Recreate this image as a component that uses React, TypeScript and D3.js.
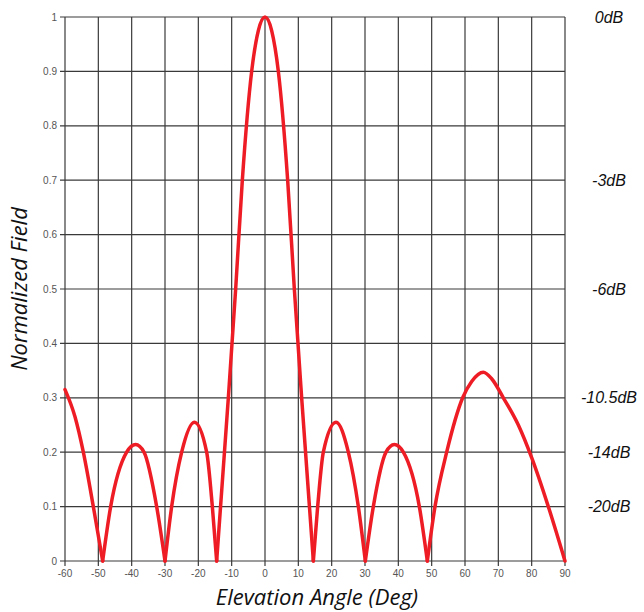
import { useEffect, useRef } from "react";
import * as d3 from "d3";

// elevation angle (deg) and normalized field
const angles = [
  -60, -57, -54.5, -51.5, -48.7,
  -46.3, -41.5, -38.8, -36.3, -32.5, -30,
  -28, -25, -21.2, -17.5, -15.8, -14.5,
  -11, -8.8, -6.8, -4, -2, 0, 2, 4, 6.8, 8.8, 11, 14.5,
  15.8, 17.5, 21.3, 25, 28, 30.1,
  32.5, 36.3, 38.8, 41.5, 46.3, 48.7,
  51, 54.5, 59.3, 62, 65.5, 68, 71.5, 76, 80, 85, 90,
];
const field = [
  0.315, 0.265, 0.2, 0.1, 0,
  0.1, 0.2, 0.214, 0.2, 0.1, 0,
  0.1, 0.2, 0.255, 0.2, 0.1, 0,
  0.3, 0.5, 0.7, 0.9, 0.975, 1, 0.975, 0.9, 0.7, 0.5, 0.3, 0,
  0.1, 0.2, 0.255, 0.2, 0.1, 0,
  0.1, 0.2, 0.214, 0.2, 0.1, 0,
  0.1, 0.2, 0.3, 0.33, 0.347, 0.335, 0.3, 0.25, 0.19, 0.1, 0,
];

const xTicks = [-60, -50, -40, -30, -20, -10, 0, 10, 20, 30, 40, 50, 60, 70, 80, 90];
const yTicks = [0, 0.1, 0.2, 0.3, 0.4, 0.5, 0.6, 0.7, 0.8, 0.9, 1];
const dbLabels = ["0dB", "-3dB", "-6dB", "-10.5dB", "-14dB", "-20dB"];
const dbLevels = [1, 0.7, 0.5, 0.3, 0.2, 0.1];

export default function App() {
  const ref = useRef<SVGSVGElement>(null);

  useEffect(() => {
    const width = 644;
    const height = 612;
    const margin = { top: 17, right: 79, bottom: 51, left: 65 };

    const svg = d3.select(ref.current);
    svg.selectAll("*").remove();

    const x = d3.scaleLinear().domain([-60, 90]).range([margin.left, width - margin.right]);
    const y = d3.scaleLinear().domain([0, 1]).range([height - margin.bottom, margin.top]);

    const grid = svg.append("g").attr("stroke", "#3a3a3a").attr("stroke-width", 1.2);
    grid.selectAll(".vl")
      .data(xTicks)
      .join("line")
      .attr("x1", d => x(d)).attr("x2", d => x(d))
      .attr("y1", y(0) + 5).attr("y2", y(1));
    grid.selectAll(".hl")
      .data(yTicks)
      .join("line")
      .attr("x1", x(-60) - 5).attr("x2", x(90))
      .attr("y1", d => y(d)).attr("y2", d => y(d));

    svg.append("g")
      .selectAll("text")
      .data(yTicks)
      .join("text")
      .attr("x", x(-60) - 8)
      .attr("y", d => y(d))
      .attr("dy", "0.35em")
      .attr("text-anchor", "end")
      .attr("font-family", "Liberation Sans, Arial, sans-serif")
      .attr("font-size", 10)
      .attr("fill", "#555")
      .text(d => d3.format("")(d));

    svg.append("g")
      .selectAll("text")
      .data(xTicks)
      .join("text")
      .attr("x", d => x(d))
      .attr("y", y(0) + 16)
      .attr("text-anchor", "middle")
      .attr("font-family", "Liberation Sans, Arial, sans-serif")
      .attr("font-size", 10)
      .attr("fill", "#555")
      .text(d => d);

    // split the curve into lobes at the nulls so the dips stay sharp
    const pts = angles.map((a, i) => [a, field[i]] as [number, number]);
    const lobes: [number, number][][] = [];
    let cur: [number, number][] = [];
    pts.forEach((p, i) => {
      cur.push(p);
      if (p[1] === 0 && i > 0 && i < pts.length - 1) {
        lobes.push(cur);
        cur = [p];
      }
    });
    lobes.push(cur);

    const line = d3.line<[number, number]>()
      .x(d => x(d[0]))
      .y(d => y(d[1]))
      .curve(d3.curveMonotoneX);

    svg.append("g")
      .selectAll("path")
      .data(lobes)
      .join("path")
      .attr("d", line)
      .attr("fill", "none")
      .attr("stroke", "#ee1c24")
      .attr("stroke-width", 3.5)
      .attr("stroke-linejoin", "round")
      .attr("stroke-linecap", "round");

    svg.append("g")
      .selectAll("text")
      .data(dbLabels)
      .join("text")
      .attr("x", 609)
      .attr("y", (d, i) => y(dbLevels[i]))
      .attr("dy", "0.35em")
      .attr("text-anchor", "middle")
      .attr("font-family", "Liberation Sans, Arial, sans-serif")
      .attr("font-style", "italic")
      .attr("font-size", 16)
      .attr("fill", "#111")
      .text(d => d);

    svg.append("text")
      .attr("transform", `translate(27, ${(y(0) + y(1)) / 2}) rotate(-90)`)
      .attr("text-anchor", "middle")
      .attr("font-family", "Open Sans, sans-serif")
      .attr("font-style", "italic")
      .attr("font-size", 22)
      .attr("fill", "#111")
      .text("Normalized Field");

    svg.append("text")
      .attr("x", 317)
      .attr("y", 605)
      .attr("text-anchor", "middle")
      .attr("font-family", "Open Sans, sans-serif")
      .attr("font-style", "italic")
      .attr("font-size", 22)
      .attr("fill", "#111")
      .text("Elevation Angle (Deg)");
  }, []);

  return (
    <svg
      ref={ref}
      width={644}
      height={612}
      style={{ position: "absolute", left: 0, top: 0, background: "#fff" }}
    />
  );
}
